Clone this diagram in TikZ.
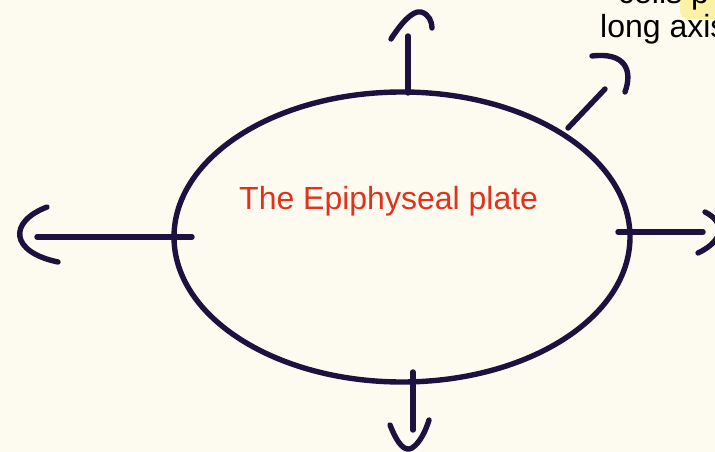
\documentclass[tikz,border=0pt]{standalone}
\usepackage{fontspec}
\setmainfont{Liberation Sans}
\usetikzlibrary{shapes.geometric}
\definecolor{paper}{HTML}{FDFBEF}
\definecolor{ink}{HTML}{1B1240}
\definecolor{titlered}{HTML}{E0321C}
\definecolor{marker}{HTML}{FBF2A6}
\begin{document}
\begin{tikzpicture}[
    x=1pt, y=-1pt,
    pen/.style={draw=ink, line width=5.4pt, line cap=round, line join=round},
    label/.style={font=\fontsize{32}{34}\selectfont, inner sep=0pt, anchor=base west}
]
    \path[use as bounding box, fill=paper] (0,0) rectangle (715,452);
    \clip (0,0) rectangle (715,452);

    % note in the corner
    \fill[marker, rounded corners=8pt] (680,-12) rectangle (722,19);
    \node[label] (cells) at (618,4) {cells p};
    \node[label] (axis) at (600,38) {long axis};

    % the plate
    \node[pen, ellipse, minimum width=456pt, minimum height=290pt, inner sep=0pt] (plate) at (402,237) {};
    \node[label, text=titlered] (title) at (239,209) {The Epiphyseal plate};

    % arrow ends
    \coordinate (topbase) at (408,93);
    \coordinate (toptip) at (408,36);
    \coordinate (diagbase) at (568,128);
    \coordinate (diagtip) at (605,89);
    \coordinate (leftbase) at (192,237);
    \coordinate (lefttip) at (37,237);
    \coordinate (rightbase) at (618,232);
    \coordinate (righttip) at (703,232);
    \coordinate (botbase) at (413,372);
    \coordinate (bottip) at (413,430);

    \draw[pen] (topbase) -- (toptip);
    \draw[pen] (391,39) .. controls (400,25) and (412,10) .. (421,12)
               .. controls (429,14) and (432,22) .. (432,28);

    \draw[pen] (diagbase) -- (diagtip);
    \draw[pen] (592,56) .. controls (625,52) and (633,70) .. (625,92);

    \draw[pen] (leftbase) -- (lefttip);
    \draw[pen] (47,207) .. controls (8,222) and (10,252) .. (58,262);

    \draw[pen] (rightbase) -- (righttip);
    \draw[pen] (705,212) .. controls (725,222) and (725,240) .. (698,253);

    \draw[pen] (botbase) -- (bottip);
    \draw[pen] (390,425) .. controls (398,445) and (405,452) .. (412,448)
               .. controls (420,443) and (426,430) .. (429,420);
\end{tikzpicture}
\end{document}
